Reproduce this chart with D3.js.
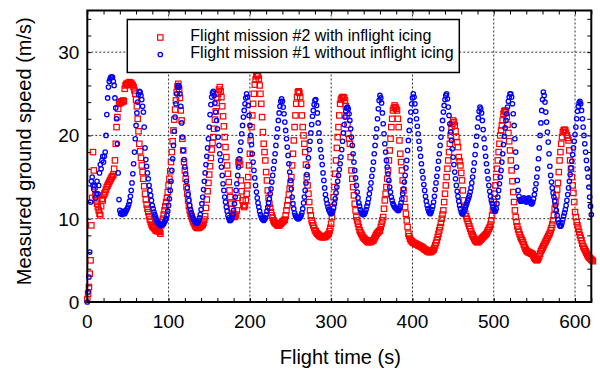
<!DOCTYPE html>
<html>
<head>
<meta charset="utf-8">
<script src="https://cdn.jsdelivr.net/npm/d3@7"></script>
<style>
  body { margin: 0; background: #fff; }
  svg { display: block; font-family: "Liberation Sans", Arial, sans-serif; }
</style>
</head>
<body>
<svg width="600" height="369"></svg>
<script>
// ground speed samples, one per second of flight (t = index in seconds)
var mission1 = [ // without inflight icing (blue circles)
  0, 1.2, 3, 6, 12, 14.5, 15, 14, 13.5, 14,
  12.5, 13, 14.5, 13, 14, 15.5, 16.5, 16, 17, 17.5,
  16.8, 17.5, 18, 20, 22.5, 24.5, 25.8, 26.5, 26.8, 27,
  27, 27, 26.5, 26, 24.5, 23.3, 22, 19, 15.5, 12.3,
  11, 10.6, 10.8, 10.5, 10.7, 10.9, 10.6, 10.8, 11, 11.2,
  11.4, 11.7, 12.1, 12.7, 13.4, 14.3, 15.4, 16.6, 18, 19.6,
  21.2, 22.7, 24, 24.9, 25.3, 25.2, 24.8, 24.3, 23.5, 22.8,
  21, 18.5, 17.1, 16.3, 15.5, 14.8, 14, 13.4, 12.8, 12.2,
  11.6, 11.2, 10.8, 10.5, 10.2, 9.9, 9.6, 9.5, 9.4, 9.3,
  9.2, 9.2, 9.3, 9.3, 9.4, 9.6, 9.8, 10, 10.4, 10.9,
  11.6, 12.4, 13.4, 14.5, 15.8, 17.2, 18.8, 20.5, 22.2, 23.8,
  25, 25.8, 26, 25.8, 25, 23.5, 21.5, 19.8, 18.2, 17.1,
  16.2, 15.4, 14.5, 13.7, 12.9, 12.2, 11.6, 11.1, 10.7, 10.4,
  10.1, 9.9, 9.7, 9.6, 9.5, 9.5, 9.6, 9.8, 10.1, 10.5,
  11.1, 11.8, 12.6, 13.5, 14.5, 15.5, 16.5, 17.5, 18.5, 19.6,
  21, 22.5, 23.7, 24.6, 25.1, 25.3, 24.8, 23.9, 22.8, 21.8,
  20.8, 19.8, 18.8, 17.8, 17, 16.2, 15.2, 14.2, 13.4, 12.6,
  12, 11.4, 10.9, 10.4, 10.1, 9.8, 9.8, 9.9, 10.1, 10.5,
  11, 11.8, 12.6, 13.4, 14.2, 15.2, 16.2, 17.2, 18.2, 19.2,
  20.2, 21.2, 22.2, 23, 23.8, 24.5, 25, 24.6, 23.6, 22.4,
  21.2, 20, 18.9, 17.8, 16.8, 15.8, 14.9, 14, 13.2, 12.5,
  11.9, 11.4, 10.9, 10.5, 10.2, 10, 9.9, 9.8, 9.9, 10.1,
  10.5, 10.9, 11.4, 11.9, 12.4, 13, 13.6, 14.4, 15.2, 16,
  16.9, 17.8, 18.8, 19.8, 20.8, 21.8, 22.7, 23.5, 24.1, 24.4,
  24.1, 23.4, 22.6, 21.6, 20.6, 19.6, 18.6, 17.6, 16.6, 15.6,
  14.6, 13.6, 12.6, 11.8, 11.2, 10.7, 10.4, 10.2, 10.1, 10,
  10, 10.1, 10.2, 10.4, 10.7, 11.2, 11.9, 12.6, 13.4, 14.3,
  15.3, 16.3, 17.3, 18.3, 19.3, 20.3, 21.3, 22.3, 23, 23.7,
  24.2, 24.3, 23.6, 22.7, 21.5, 20.3, 19.3, 18.3, 17.4, 16.5,
  15.5, 14.6, 13.7, 12.9, 12.3, 11.8, 11.4, 11.1, 10.9, 10.7,
  10.6, 10.7, 10.9, 11.3, 11.8, 12.4, 13.1, 13.8, 14.5, 15.2,
  15.9, 16.6, 17.4, 18.3, 19.3, 20.3, 21.3, 22.2, 22.9, 23.3,
  23.4, 23.2, 22.6, 21.8, 20.8, 19.8, 18.8, 17.8, 16.8, 15.8,
  14.9, 14, 13.2, 12.5, 11.9, 11.5, 11.1, 10.8, 10.6, 10.5,
  10.5, 10.6, 10.8, 11.1, 11.5, 11.9, 12.4, 13, 13.6, 14.3,
  15.1, 15.9, 16.8, 17.8, 18.8, 19.8, 20.8, 22, 23.2, 24.2,
  24.8, 24.5, 23.9, 22.7, 21.4, 20.2, 19, 18, 17, 16.2,
  15.4, 14.6, 13.8, 13.2, 12.6, 12.2, 11.8, 11.6, 11.4, 11.3,
  11.2, 11.1, 11, 11, 11.2, 11.5, 11.9, 12.4, 13, 13.6,
  14.4, 15.2, 16.1, 17, 18.2, 19.4, 20.6, 21.8, 22.8, 23.8,
  24.5, 25, 24.6, 23.8, 22.9, 22, 21.1, 20.2, 19.3, 18.4,
  17.5, 16.6, 15.7, 14.9, 14.1, 13.4, 12.7, 12.1, 11.6, 11.2,
  10.9, 10.7, 10.6, 10.8, 11.1, 11.5, 12, 12.7, 13.5, 14.3,
  15.1, 16, 16.9, 17.8, 18.8, 19.8, 20.8, 21.8, 22.8, 23.6,
  24.3, 24.8, 25, 24.4, 23.4, 22.4, 21.4, 20.4, 19.4, 18.4,
  17.4, 16.5, 15.6, 14.8, 14, 13.3, 12.7, 12.1, 11.6, 11.2,
  10.8, 10.6, 10.6, 10.8, 11, 11.3, 11.6, 11.9, 12.2, 12.5,
  12.8, 13.2, 13.7, 14.3, 15, 15.8, 16.7, 17.7, 18.8, 19.9,
  21, 22.1, 22.9, 23.4, 23.2, 22.7, 21.8, 20.7, 19.6, 18.5,
  17.5, 16.6, 15.7, 14.8, 14, 13.3, 12.7, 12.2, 11.8, 11.4,
  11.1, 10.9, 10.9, 11.2, 11.8, 12.6, 13.4, 14.2, 15, 15.8,
  16.8, 17.8, 18.9, 19.9, 20.9, 21.8, 22.6, 23.4, 24.1, 24.6,
  25, 25, 24.6, 23.8, 22.6, 21.2, 19.6, 18, 16.2, 14.6,
  13.4, 12.7, 12.3, 12.1, 12.1, 12.2, 12.4, 12.5, 12.3, 12.1,
  12, 12.2, 12.4, 12.5, 12.3, 12, 11.8, 11.8, 12, 12.4,
  12.9, 13.5, 14.2, 15, 16, 17.2, 18.5, 20, 21.5, 23,
  24.3, 25.2, 24.8, 24, 22.8, 21.6, 20.4, 19.2, 17.8, 16.3,
  15.2, 14.4, 13.7, 13.1, 12.6, 12.1, 11.6, 11, 10.4, 9.9,
  9.5, 9.2, 9.1, 9.2, 9.5, 9.9, 10.3, 10.7, 11.1, 11.6,
  12.2, 12.9, 13.7, 14.5, 15.3, 16.1, 16.9, 17.7, 18.5, 19.3,
  20.1, 21, 22, 22.9, 23.5, 23.9, 24.1, 23.8, 23, 22,
  21, 20, 19, 18, 17, 16, 15, 13.8, 12.6, 11.5,
  10.5
];

var mission2 = [ // with inflight icing (red squares)
  0.3, 1, 1.8, 3.4, 5, 9.2, 12.5, 18, 15.8, 13.8,
  12.8, 12.2, 11.8, 11.4, 11, 10.6, 10.4, 11.5, 12.4, 12.2,
  12.8, 13, 13.2, 13.5, 13.8, 14, 14.2, 14.4, 14.6, 14.8,
  15, 15.1, 15.3, 16, 17, 19, 21, 22.2, 23.2, 23.8,
  24, 23.9, 24.1, 24, 24.2, 24.1, 25.6, 26, 26.2, 26.1,
  26.3, 26.1, 26.4, 26.2, 26.3, 26.1, 26, 25.8, 25.4, 25,
  24.3, 23.5, 22, 20.5, 19, 18.1, 17.3, 16.4, 15.6, 14.8,
  13.9, 13, 12.3, 11.7, 11.2, 10.8, 10.3, 9.9, 9.6, 9.3,
  9.1, 9, 8.9, 8.8, 8.6, 8.6, 8.5, 8.6, 8.5, 8.4,
  8.2, 9.2, 9.6, 10, 10.5, 11, 11.5, 12, 12.5, 13.2,
  14, 14.8, 15.7, 16.8, 18, 19.3, 20.6, 21.9, 23.1, 24.2,
  25.2, 25.9, 26.2, 25.5, 24.5, 23, 21.8, 19.6, 18.2, 16.8,
  15.8, 14.8, 13.8, 13, 12.2, 11.5, 11, 10.6, 10.3, 10,
  9.7, 9.5, 9.3, 9.1, 9, 8.9, 8.9, 8.9, 9, 9,
  9.1, 9.2, 9.3, 9.5, 9.9, 10.3, 11.3, 12.3, 13.3, 14.3,
  15.3, 16.3, 17.3, 18.3, 19.1, 19.8, 20.8, 21.9, 22.9, 23.9,
  24.5, 25, 25.5, 25.8, 25.3, 24.6, 23.5, 22.3, 21.1, 19.8,
  18.6, 17.4, 16.4, 15.4, 14.4, 13.4, 12.6, 11.8, 11.2, 10.6,
  10.3, 10.2, 10.3, 10.5, 11, 12.5, 16.8, 17, 16.5, 14.6,
  13.3, 12.2, 11.6, 11.4, 11.6, 12.2, 13, 14, 15, 16.4,
  17.8, 19.4, 21, 22.4, 23.8, 25, 26.1, 26.7, 27.1, 27.3,
  27.2, 26.8, 26, 25, 23.8, 22.2, 20.4, 19, 18, 17,
  15.6, 14.6, 13.4, 12.5, 11.8, 11.3, 10.8, 10.4, 10.1, 9.8,
  9.6, 9.5, 9.4, 9.3, 9.2, 9.2, 9.2, 9.3, 9.4, 9.5,
  9.6, 9.7, 9.8, 9.9, 10.4, 11, 11.6, 12.2, 12.9, 13.6,
  14.3, 15, 16.4, 17.8, 19.4, 21, 22.4, 23.8, 24.6, 25.2,
  25.3, 25.1, 24.6, 23.8, 22.4, 21, 20, 19, 18, 16.5,
  15, 14, 13, 12, 11, 10.4, 9.8, 9.5, 9.2, 8.9,
  8.6, 8.5, 8.3, 8.2, 8.1, 8, 7.9, 7.9, 7.8, 7.8,
  7.8, 7.8, 7.8, 7.9, 7.9, 8, 8.1, 8.2, 8.5, 8.9,
  9.4, 10.2, 11.4, 12.6, 13.8, 15.4, 17, 18.5, 19.8, 21,
  22.4, 23.8, 24.3, 24.5, 24.6, 24.6, 24.5, 24.2, 23.5, 22.4,
  21.3, 20.2, 19.6, 19, 17.4, 15.8, 14.8, 13.8, 12.8, 11.8,
  11, 10.2, 9.8, 9.4, 9, 8.6, 8.4, 8.2, 8, 7.8,
  7.7, 7.6, 7.5, 7.4, 7.3, 7.2, 7.2, 7.2, 7.2, 7.3,
  7.3, 7.4, 7.4, 7.6, 7.8, 8, 8.2, 8.3, 8.4, 8.5,
  8.6, 9, 9.4, 9.8, 10.2, 11.2, 12.2, 13, 13.8, 14.8,
  15.8, 17, 18.2, 19.6, 21, 22, 23, 23.3, 23.6, 23.4,
  23.2, 23, 22, 21, 19.4, 17.8, 16.8, 15.8, 14.6, 13.4,
  12.4, 11.4, 10.6, 9.8, 9, 8.2, 7.9, 7.6, 7.4, 7.3,
  7.2, 7.1, 7.1, 7, 7, 6.9, 6.9, 6.8, 6.8, 6.7,
  6.7, 6.6, 6.6, 6.5, 6.4, 6.3, 6.3, 6.2, 6.1, 6.1,
  6, 6, 6, 6.1, 6.1, 6.2, 6.3, 6.5, 6.8, 7.1,
  7.4, 7.8, 8.2, 8.6, 9, 9.5, 10, 10.5, 11, 12,
  13, 14, 15, 16, 17, 18, 19, 20, 21, 21.4,
  21.8, 21.6, 21.2, 20.5, 19.8, 19.2, 18.6, 17.4, 16.9, 16.4,
  15.5, 14.6, 13.4, 12.2, 11.4, 10.6, 10.3, 10, 9.7, 9.4,
  9.1, 8.8, 8.5, 8.2, 8, 7.8, 7.6, 7.4, 7.3, 7.2,
  7.2, 7.2, 7.3, 7.4, 7.5, 7.6, 7.7, 7.8, 7.9, 8,
  8.1, 8.2, 8.4, 8.6, 8.8, 9, 9.3, 9.8, 10.4, 11,
  12, 13, 14, 15, 16, 17, 18, 19, 20, 20.6,
  21.2, 21.8, 22.6, 22.9, 23, 22.8, 22.2, 21.3, 20.3, 19.3,
  18.2, 17, 15.8, 14.5, 13.2, 12, 11, 10.2, 9.6, 9.1,
  8.7, 8.4, 8.1, 7.8, 7.6, 7.4, 7.2, 6.9, 6.6, 6.4,
  6.2, 6.1, 6, 6, 5.9, 5.9, 5.8, 5.8, 5.7, 5.5,
  5.3, 5.2, 5.1, 5, 5.1, 5.3, 5.5, 5.8, 6.1, 6.3,
  6.5, 6.7, 6.9, 7.1, 7.3, 7.5, 7.7, 7.9, 8.1, 8.3,
  8.6, 8.9, 9.3, 9.8, 10.4, 11.2, 12, 12.8, 13.5, 14.3,
  15.6, 17, 18, 19, 19.8, 20.4, 20.6, 20.7, 20.6, 20.3,
  20, 19.7, 19.4, 18.2, 17, 16, 15, 14, 13.1, 12,
  10.8, 10.2, 9.6, 9.2, 8.8, 8.4, 8, 7.7, 7.4, 7,
  6.7, 6.5, 6.3, 6.1, 5.9, 5.7, 5.5, 5.4, 5.3, 5.2,
  5.1, 5, 4.9
];

var legendLabels = ["Flight mission #2 with inflight icing", "Flight mission #1 without inflight icing"];
var xTicks = [0, 100, 200, 300, 400, 500, 600];
var yTicks = [0, 10, 20, 30];

var red = "#ff0000", blue = "#0000ff";

var margin = {top: 10.5, right: 8.7, bottom: 67, left: 87.3},
    width = 600 - margin.left - margin.right,
    height = 369 - margin.top - margin.bottom;

var x = d3.scaleLinear().domain([0, 620]).range([0, width]);
var y = d3.scaleLinear().domain([0, 35]).range([height, 0]);

var svg = d3.select("svg")
  .append("g")
    .attr("transform", "translate(" + margin.left + "," + margin.top + ")");

// dashed grid
svg.append("g").selectAll("line")
    .data(xTicks.slice(1))
  .enter().append("line")
    .attr("x1", x).attr("x2", x)
    .attr("y1", 0).attr("y2", height)
    .attr("stroke", "#333").attr("stroke-dasharray", "2,2");
svg.append("g").selectAll("line")
    .data(yTicks.slice(1))
  .enter().append("line")
    .attr("y1", y).attr("y2", y)
    .attr("x1", 0).attr("x2", width)
    .attr("stroke", "#333").attr("stroke-dasharray", "2,2");

// inward ticks on all four sides
var xMinor = d3.range(0, 621, 20), yMinor = d3.range(0, 35, 2);
var tickStyle = function(g) {
  g.select(".domain").remove();
  g.selectAll("text").remove();
  g.selectAll("line").attr("stroke", "#000");
};
svg.append("g").attr("transform", "translate(0," + height + ")")
  .call(d3.axisBottom(x).tickValues(xMinor).tickSize(-4)).call(tickStyle);
svg.append("g")
  .call(d3.axisTop(x).tickValues(xMinor).tickSize(-4)).call(tickStyle);
svg.append("g")
  .call(d3.axisLeft(y).tickValues(yMinor).tickSize(-4)).call(tickStyle);
svg.append("g").attr("transform", "translate(" + width + ",0)")
  .call(d3.axisRight(y).tickValues(yMinor).tickSize(-4)).call(tickStyle);

// tick labels
svg.append("g").selectAll("text")
    .data(xTicks)
  .enter().append("text")
    .attr("x", x).attr("y", height + 26)
    .attr("text-anchor", "middle")
    .style("font-size", "19px")
    .text(function(d) { return d; });
svg.append("g").selectAll("text")
    .data(yTicks)
  .enter().append("text")
    .attr("x", -8).attr("y", y).attr("dy", "0.36em")
    .attr("text-anchor", "end")
    .style("font-size", "19px")
    .text(function(d) { return d; });

// axis titles
svg.append("text")
    .attr("x", 253).attr("y", height + 62)
    .attr("text-anchor", "middle")
    .style("font-size", "20px")
    .text("Flight time (s)");
svg.append("text")
    .attr("transform", "translate(-56," + (height / 2 - 5) + ") rotate(-90)")
    .attr("text-anchor", "middle")
    .style("font-size", "20px")
    .text("Measured ground speed (m/s)");

// data: red squares first, blue circles on top
svg.append("g").selectAll("rect")
    .data(mission2)
  .enter().append("rect")
    .attr("x", function(d, i) { return x(i) - 2.7; })
    .attr("y", function(d) { return y(d) - 2.7; })
    .attr("width", 5.4).attr("height", 5.4)
    .attr("fill", "none").attr("stroke", red).attr("stroke-width", 1.2);
svg.append("g").selectAll("circle")
    .data(mission1)
  .enter().append("circle")
    .attr("cx", function(d, i) { return x(i); })
    .attr("cy", function(d) { return y(d); })
    .attr("r", 2.2)
    .attr("fill", "none").attr("stroke", blue).attr("stroke-width", 1.3);

// frame
svg.append("rect")
    .attr("width", width).attr("height", height)
    .attr("fill", "none").attr("stroke", "#000").attr("stroke-width", 2);

// legend
var legend = svg.append("g").attr("transform", "translate(40,9)");
legend.append("rect")
    .attr("width", 332).attr("height", 53)
    .attr("fill", "#fff").attr("stroke", "#000").attr("stroke-width", 1.5);
legend.append("rect")
    .attr("x", 30.3).attr("y", 15.3).attr("width", 5.4).attr("height", 5.4)
    .attr("fill", "none").attr("stroke", red).attr("stroke-width", 1.2);
legend.append("circle")
    .attr("cx", 33).attr("cy", 35).attr("r", 2.2)
    .attr("fill", "none").attr("stroke", blue).attr("stroke-width", 1.3);
legend.selectAll(".label")
    .data(legendLabels)
  .enter().append("text")
    .attr("class", "label")
    .attr("x", 63).attr("y", function(d, i) { return 21.5 + i * 17; })
    .style("font-size", "16px")
    .text(function(d) { return d; });
</script>
</body>
</html>
